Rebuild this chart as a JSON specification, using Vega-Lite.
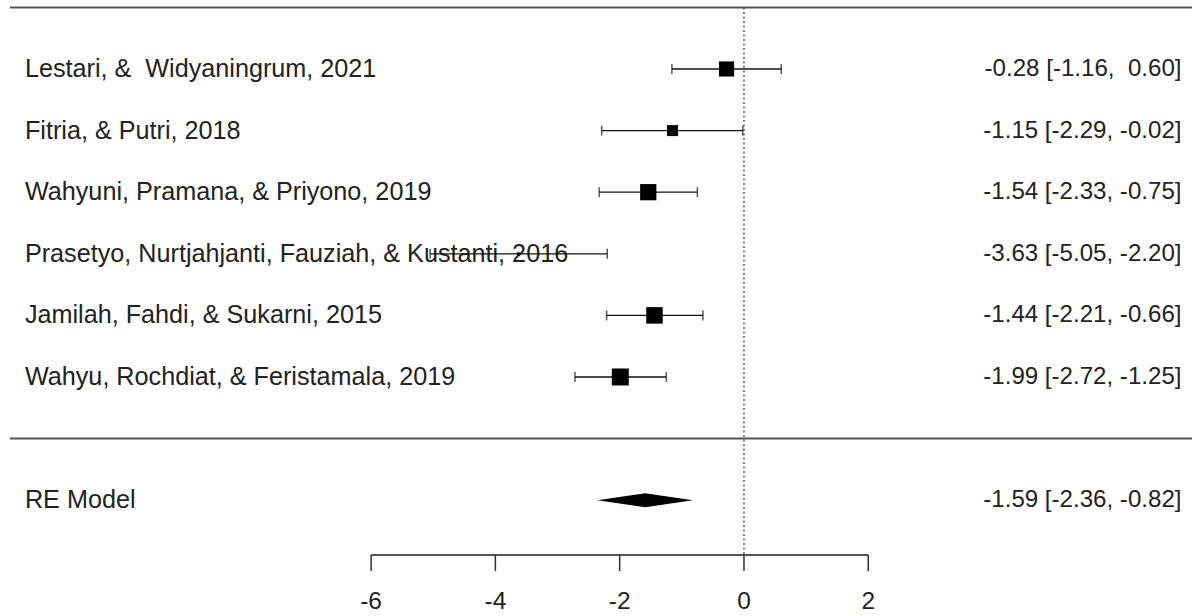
{
  "$schema": "https://vega.github.io/schema/vega-lite/v6.json",
  "width": 1193,
  "height": 616,
  "autosize": {"type": "fit", "contains": "padding"},
  "padding": 0,
  "background": "white",
  "config": {"view": {"stroke": null}, "text": {"font": "Liberation Sans", "fontSize": 24.5, "color": "#222222"}},
  "datasets": {
    "studies": [
      {"study": "Lestari, & \u00a0Widyaningrum, 2021", "row": 6, "yi": -0.28, "lo": -1.16, "hi": 0.60, "weight": 17.4, "ci": "-0.28 [-1.16, \u00a00.60]"},
      {"study": "Fitria, & Putri, 2018", "row": 5, "yi": -1.15, "lo": -2.29, "hi": -0.02, "weight": 14.9, "ci": "-1.15 [-2.29, -0.02]"},
      {"study": "Wahyuni, Pramana, & Priyono, 2019", "row": 4, "yi": -1.54, "lo": -2.33, "hi": -0.75, "weight": 18.2, "ci": "-1.54 [-2.33, -0.75]"},
      {"study": "Prasetyo, Nurtjahjanti, Fauziah, & Kustanti, 2016", "row": 3, "yi": -3.63, "lo": -5.05, "hi": -2.20, "weight": 12.3, "ci": "-3.63 [-5.05, -2.20]"},
      {"study": "Jamilah, Fahdi, & Sukarni, 2015", "row": 2, "yi": -1.44, "lo": -2.21, "hi": -0.66, "weight": 18.4, "ci": "-1.44 [-2.21, -0.66]"},
      {"study": "Wahyu, Rochdiat, & Feristamala, 2019", "row": 1, "yi": -1.99, "lo": -2.72, "hi": -1.25, "weight": 18.8, "ci": "-1.99 [-2.72, -1.25]"}
    ],
    "pooled": [
      {"study": "RE Model", "row": -1, "est": -1.59, "lo": -2.36, "hi": -0.82, "ci": "-1.59 [-2.36, -0.82]"}
    ],
    "diamond": [
      {"x": -2.36, "top": -1, "bottom": -1},
      {"x": -1.59, "top": -0.886, "bottom": -1.114},
      {"x": -0.82, "top": -1, "bottom": -1}
    ],
    "ticks": [
      {"v": -6, "lab": "-6"},
      {"v": -4, "lab": "-4"},
      {"v": -2, "lab": "-2"},
      {"v": 0, "lab": "0"},
      {"v": 2, "lab": "2"}
    ],
    "hlines": [{"row": 7}, {"row": 0}]
  },
  "layer": [
    {
      "data": {"name": "hlines"},
      "mark": {"type": "rule", "color": "#555555", "strokeWidth": 2},
      "encoding": {
        "x": {"datum": -11.81, "type": "quantitative", "scale": {"domain": [-11.971, 7.209], "nice": false, "zero": false}, "axis": null},
        "x2": {"datum": 7.209},
        "y": {"field": "row", "type": "quantitative", "scale": {"domain": [-2.88, 7.12], "nice": false, "zero": false}, "axis": null}
      }
    },
    {
      "data": {"name": "ticks"},
      "transform": [{"filter": "datum.v == 0"}],
      "mark": {"type": "rule", "color": "#333333", "strokeWidth": 1.2, "strokeDash": [2, 2.5]},
      "encoding": {
        "x": {"field": "v", "type": "quantitative", "axis": null},
        "y": {"datum": 7, "type": "quantitative", "axis": null},
        "y2": {"datum": -1.89}
      }
    },
    {
      "data": {"name": "studies"},
      "mark": {"type": "text", "align": "left", "baseline": "middle", "fontSize": 25.2},
      "encoding": {
        "x": {"datum": -11.57, "type": "quantitative", "axis": null},
        "y": {"field": "row", "type": "quantitative", "axis": null},
        "text": {"field": "study"}
      }
    },
    {
      "data": {"name": "studies"},
      "mark": {"type": "text", "align": "right", "baseline": "middle", "fontSize": 24.1},
      "encoding": {
        "x": {"datum": 7.04, "type": "quantitative", "axis": null},
        "y": {"field": "row", "type": "quantitative", "axis": null},
        "text": {"field": "ci"}
      }
    },
    {
      "data": {"name": "pooled"},
      "mark": {"type": "text", "align": "left", "baseline": "middle", "fontSize": 25.2},
      "encoding": {
        "x": {"datum": -11.57, "type": "quantitative", "axis": null},
        "y": {"field": "row", "type": "quantitative", "axis": null},
        "text": {"field": "study"}
      }
    },
    {
      "data": {"name": "pooled"},
      "mark": {"type": "text", "align": "right", "baseline": "middle", "fontSize": 24.1},
      "encoding": {
        "x": {"datum": 7.04, "type": "quantitative", "axis": null},
        "y": {"field": "row", "type": "quantitative", "axis": null},
        "text": {"field": "ci"}
      }
    },
    {
      "data": {"name": "studies"},
      "mark": {"type": "rule", "color": "#111111", "strokeWidth": 1.3},
      "encoding": {
        "x": {"field": "lo", "type": "quantitative", "axis": null},
        "x2": {"field": "hi"},
        "y": {"field": "row", "type": "quantitative", "axis": null}
      }
    },
    {
      "data": {"name": "studies"},
      "transform": [{"fold": ["lo", "hi"], "as": ["end", "val"]}],
      "mark": {"type": "tick", "orient": "vertical", "color": "#111111", "thickness": 1.5},
      "encoding": {
        "x": {"field": "val", "type": "quantitative", "axis": null},
        "y": {"field": "row", "type": "quantitative", "axis": null},
        "size": {"value": 10}
      }
    },
    {
      "data": {"name": "studies"},
      "mark": {"type": "point", "shape": "square", "filled": true, "color": "black", "opacity": 1},
      "encoding": {
        "x": {"field": "yi", "type": "quantitative", "axis": null},
        "y": {"field": "row", "type": "quantitative", "axis": null},
        "size": {"field": "weight", "type": "quantitative", "scale": {"domain": [12.3, 18.8], "range": [9, 289], "zero": false}, "legend": null}
      }
    },
    {
      "data": {"name": "diamond"},
      "mark": {"type": "area", "color": "black", "opacity": 1},
      "encoding": {
        "x": {"field": "x", "type": "quantitative", "axis": null},
        "y": {"field": "top", "type": "quantitative", "axis": null},
        "y2": {"field": "bottom"}
      }
    },
    {
      "data": {"name": "pooled"},
      "mark": {"type": "rule", "color": "#555555", "strokeWidth": 2},
      "encoding": {
        "x": {"datum": -6, "type": "quantitative", "axis": null},
        "x2": {"datum": 2},
        "y": {"datum": -1.89, "type": "quantitative", "axis": null}
      }
    },
    {
      "data": {"name": "ticks"},
      "mark": {"type": "rule", "color": "#333333", "strokeWidth": 1.5},
      "encoding": {
        "x": {"field": "v", "type": "quantitative", "axis": null},
        "y": {"datum": -1.89, "type": "quantitative", "axis": null},
        "y2": {"datum": -2.15}
      }
    },
    {
      "data": {"name": "ticks"},
      "mark": {"type": "text", "align": "center", "baseline": "middle"},
      "encoding": {
        "x": {"field": "v", "type": "quantitative", "axis": null},
        "y": {"datum": -2.645, "type": "quantitative", "axis": null},
        "text": {"field": "lab"}
      }
    }
  ]
}
